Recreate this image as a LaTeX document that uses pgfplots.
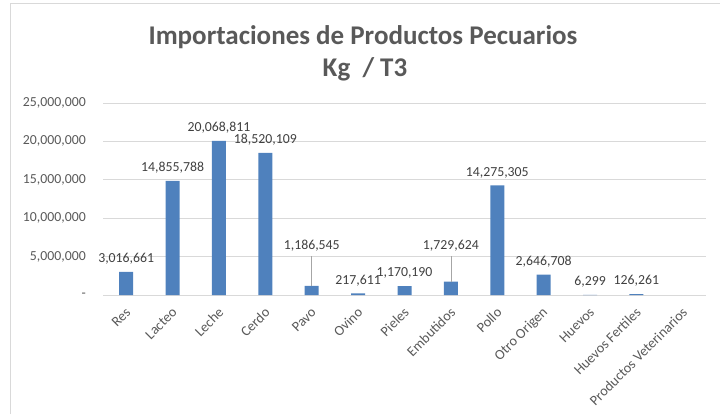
\documentclass[border=0pt]{standalone}
\usepackage{fontspec}
\setmainfont{Carlito}
\usepackage{pgfplots}
\usepackage{pgfplotstable}
\pgfplotsset{compat=1.18}
\definecolor{barblue}{HTML}{4F81BD}
\definecolor{gridgray}{HTML}{D9D9D9}
\definecolor{tickgray}{HTML}{595959}
\definecolor{labgray}{HTML}{404040}
\definecolor{leadgray}{HTML}{A6A6A6}

\pgfplotstableread{
x y label
0 3016661 {3,016,661}
1 14855788 {14,855,788}
2 20068811 {20,068,811}
3 18520109 {18,520,109}
5 217611 {217,611}
6 1170190 {1,170,190}
8 14275305 {14,275,305}
9 2646708 {2,646,708}
10 6299 {6,299}
11 126261 {126,261}
}\mainbars
\pgfplotstableread{
x y
4 1186545
7 1729624
}\pinbars

\newcommand{\lblfont}{\fontsize{13.8bp}{16bp}\selectfont}
\newcommand{\xlblfont}{\fontsize{14.2bp}{16bp}\selectfont}

\begin{document}
\begin{tikzpicture}[x=1bp,y=1bp]
\path[use as bounding box] (0,0) rectangle (720,414);
\draw[gridgray, line width=1bp] (10,0) -- (10,410) -- (720,410);
\node[anchor=base, text=tickgray, font=\fontsize{27bp}{32bp}\selectfont\bfseries] at (363,370) {Importaciones de Productos Pecuarios};
\node[anchor=base, text=tickgray, font=\fontsize{27bp}{32bp}\selectfont\bfseries] at (365,338) {Kg\ \ / T3};
\begin{axis}[
  at={(103bp,119bp)}, anchor=south west,
  scale only axis, width=603bp, height=192bp,
  ybar, bar width=14bp, bar shift=0pt,
  xmin=-0.5, xmax=12.5, ymin=0, ymax=25000000,
  xtick={0,...,12},
  xticklabels={Res,Lacteo,Leche,Cerdo,Pavo,Ovino,Pieles,Embutidos,Pollo,Otro Origen,Huevos,Huevos Fertiles,Productos Veterinarios},
  ytick={0,5000000,10000000,15000000,20000000,25000000},
  yticklabels={{-\hspace{7bp}},{5,000,000},{10,000,000},{15,000,000},{20,000,000},{25,000,000}},
  scaled y ticks=false,
  axis line style={draw=none},
  major tick length=0pt,
  ymajorgrids, grid style={gridgray, line width=1bp},
  tick label style={font=\lblfont, text=tickgray},
  yticklabel style={anchor=east, inner sep=0pt, xshift=-17bp},
  xticklabel style={font=\xlblfont, xshift=2bp, yshift=-15bp, rotate=45, anchor=east, inner sep=0pt},
  clip=false,
]
\addplot[fill=barblue, draw=none,
  point meta=explicit symbolic,
  nodes near coords,
  every node near coord/.append style={font=\lblfont, text=labgray, yshift=4bp}]
  table[x=x, y=y, meta=label] {\mainbars};
\addplot[fill=barblue, draw=none] table[x=x, y=y] {\pinbars};
\draw[leadgray, line width=0.75bp] (axis cs:4,5080000) -- (axis cs:4,1186545);
\draw[leadgray, line width=0.75bp] (axis cs:7,5080000) -- (axis cs:7,1729624);
\node[anchor=base, font=\lblfont, text=labgray] at (axis cs:4,5860000) {1,186,545};
\node[anchor=base, font=\lblfont, text=labgray] at (axis cs:7,5860000) {1,729,624};
\end{axis}
\end{tikzpicture}
\end{document}
